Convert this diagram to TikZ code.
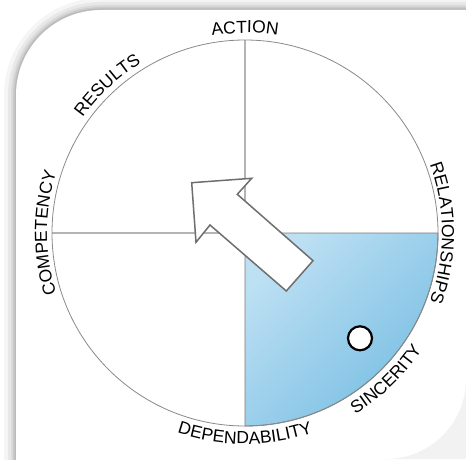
\documentclass[tikz,border=0pt]{standalone}
\usepackage{fontspec}
\setmainfont{Liberation Sans}
\usetikzlibrary{decorations.text}
\definecolor{blueA}{HTML}{BDE0F3}
\definecolor{blueB}{HTML}{78BEE3}
\definecolor{crossgray}{HTML}{B4B4B4}
\definecolor{edgegray}{HTML}{7A7A7A}
\definecolor{ringgray}{HTML}{8A8A8A}
\definecolor{arrowgray}{HTML}{6E6E6E}
\newcommand\labfont{\fontsize{17.5}{20}\selectfont}
\tikzset{
  curvedlabel/.style={decorate,decoration={text along path,text align=center,text={|\labfont|#1}}},
  crossline/.style={crossgray,line width=1.2pt},
  ring/.style={ringgray,line width=0.8pt},
  bigarrow/.style={fill=white,draw=arrowgray,line width=1.5pt,line join=miter},
  marker/.style={fill=white,draw=black,line width=2.2pt}
}
\begin{document}
\begin{tikzpicture}[x=1pt,y=1pt]
\useasboundingbox (0,0) rectangle (466,459);
\fill[white] (0,0) rectangle (466,459);
\def\cardpath{(16,-60) -- (16,364) arc[start angle=180,end angle=90,radius=85pt] -- (540,449) -- (540,-60) -- cycle}
\foreach \w/\o in {24/0.04,16/0.05,10/0.06,6/0.07,3/0.08}
  \draw[line width=\w pt,black,opacity=\o] \cardpath;
\fill[white] \cardpath;
\fill[black,opacity=0.05] (466,0) -- (386,0) arc[start angle=270,end angle=360,radius=80pt] -- cycle;
\coordinate (C) at (245,226);
% blue quadrant
\shade[top color=blueA,bottom color=blueB,shading angle=45]
  (C) -- ++(193,0) arc[start angle=0,end angle=-90,radius=193pt] -- cycle;
% cross lines
\draw[crossline] (C) -- ++(-193,0);
\draw[crossline] (C) -- ++(0,193);
\draw[edgegray,line width=0.9pt] (C) -- ++(193,0) arc[start angle=0,end angle=-90,radius=193pt] -- cycle;
% ring
\draw[ring] (C) circle[radius=193pt];
% arrow
\coordinate (a1) at (191.7,276.3);
\coordinate (a2) at (251.7,280.7);
\coordinate (a3) at (237.3,264.7);
\coordinate (a4) at (313,198.3);
\coordinate (a5) at (286.3,168);
\coordinate (a6) at (210,234);
\coordinate (a7) at (196,216.7);
\draw[bigarrow] (a1) -- (a2) -- (a3) -- (a4) -- (a5) -- (a6) -- (a7) -- cycle;
% marker
\coordinate (m) at (360,120.7);
\draw[marker] (m) circle[radius=12pt];
% labels
\path[curvedlabel=ACTION] ([shift={(C)}]135:200pt) arc[start angle=135,end angle=45,radius=200pt];
\path[curvedlabel=RESULTS] ([shift={(C)}]178:199pt) arc[start angle=178,end angle=88,radius=199pt];
\path[curvedlabel=COMPETENCY] ([shift={(C)}]225:198pt) arc[start angle=225,end angle=135,radius=198pt];
\path[curvedlabel=RELATIONSHIPS] ([shift={(C)}]45:197pt) arc[start angle=45,end angle=-45,radius=197pt];
\path[curvedlabel=DEPENDABILITY] ([shift={(C)}]225:211pt) arc[start angle=225,end angle=315,radius=211pt];
\path[curvedlabel=SINCERITY] ([shift={(C)}]269:212pt) arc[start angle=269,end angle=359,radius=212pt];
\end{tikzpicture}
\end{document}
